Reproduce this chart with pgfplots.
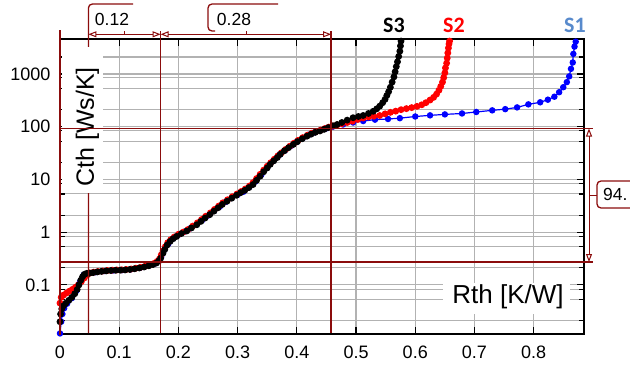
\documentclass[border=0pt]{standalone}
\usepackage{fontspec}
\setmainfont{Liberation Sans}
\newfontfamily\calibri{Carlito}
\usepackage{pgfplots}
\pgfplotsset{compat=1.18}
\usetikzlibrary{arrows.meta}
\definecolor{dred}{RGB}{139,12,12}
\definecolor{gridgray}{RGB}{178,178,178}
\definecolor{sblue}{RGB}{88,138,204}
\begin{document}
\begin{tikzpicture}
\useasboundingbox (0,0) rectangle (630pt,368pt);
\begin{axis}[
  at={(60pt,34pt)}, anchor=south west,
  scale only axis, width=524pt, height=295pt,
  xmin=0, xmax=0.885,
  ymode=log, ymin=0.0117, ymax=4600,
  xtick={0,0.1,0.2,0.3,0.4,0.5,0.6,0.7,0.8},
  xticklabels={0,0.1,0.2,0.3,0.4,0.5,0.6,0.7,0.8},
  ytick={0.1,1,10,100,1000},
  yticklabels={0.1,1,10,100,1000},
  minor ytick={0.021,0.053,0.083,0.21,0.53,0.83,2.1,5.3,8.5,21,53,85,210,530,850,2100},
  grid=both,
  major grid style={gridgray, line width=1.1pt},
  minor grid style={gridgray, line width=1.1pt},
  tick align=inside,
  major tick length=7pt, minor tick length=5pt,
  tick style={black, line width=1.2pt},
  axis line style={black, line width=2pt},
  tick label style={font=\fontsize{18}{20}\selectfont},
  xticklabel style={yshift=-8pt},
  yticklabel style={xshift=-6pt},
]
% S1
\addplot[blue, line width=1.2pt, mark=*, mark size=2.6pt, mark options={fill=blue, draw=blue}] coordinates {
(0.000,0.012) (0.002,0.020) (0.004,0.028) (0.007,0.036) (0.012,0.044) (0.020,0.056) (0.028,0.078) (0.034,0.115) (0.040,0.155) (0.048,0.166) (0.060,0.174) (0.075,0.183) (0.090,0.188) (0.105,0.191) (0.120,0.198) (0.135,0.211) (0.150,0.232) (0.160,0.252) (0.166,0.280) (0.171,0.34) (0.176,0.46) (0.183,0.60) (0.191,0.76) (0.200,0.89) (0.210,1.02) (0.220,1.18) (0.230,1.38) (0.240,1.68) (0.250,2.06) (0.260,2.52) (0.270,3.05) (0.280,3.75) (0.290,4.45) (0.300,5.10) (0.310,5.85) (0.320,7.20) (0.330,9.10) (0.340,12.2) (0.350,16.8) (0.360,22.3) (0.370,28.8) (0.380,35.5) (0.390,43.0) (0.400,51.5) (0.410,60.5) (0.420,70.0) (0.430,78.0) (0.440,85.0) (0.450,93.0) (0.461,100) (0.478,110) (0.495,120) (0.512,128) (0.532,136) (0.554,140) (0.574,145) (0.600,156) (0.625,164) (0.650,171) (0.679,178) (0.703,190) (0.730,204) (0.752,215) (0.772,232) (0.791,265) (0.811,290) (0.824,325) (0.835,370) (0.843,450) (0.850,560) (0.856,700) (0.860,900) (0.863,1250) (0.866,1650) (0.867,2400) (0.869,3300) (0.871,4100)
};
% S2
\addplot[red, line width=1.2pt, mark=*, mark size=2.8pt, mark options={fill=red, draw=red}] coordinates {
(0.000,0.045) (0.002,0.058) (0.006,0.064) (0.011,0.070) (0.016,0.076) (0.021,0.082) (0.026,0.090) (0.031,0.100) (0.036,0.115) (0.041,0.135) (0.046,0.155) (0.051,0.168) (0.057,0.174) (0.064,0.179) (0.072,0.183) (0.080,0.187) (0.088,0.190) (0.096,0.192) (0.104,0.193) (0.112,0.196) (0.120,0.200) (0.128,0.207) (0.136,0.215) (0.144,0.226) (0.152,0.240) (0.159,0.256) (0.164,0.278) (0.168,0.31) (0.171,0.37) (0.174,0.44) (0.178,0.53) (0.182,0.63) (0.187,0.72) (0.193,0.81) (0.200,0.91) (0.208,1.00) (0.216,1.12) (0.224,1.30) (0.232,1.50) (0.239,1.73) (0.246,2.00) (0.254,2.32) (0.261,2.70) (0.268,3.12) (0.275,3.60) (0.283,4.12) (0.291,4.70) (0.299,5.30) (0.306,5.90) (0.313,6.60) (0.320,7.50) (0.326,8.70) (0.332,10.4) (0.338,12.5) (0.344,15.0) (0.350,17.8) (0.356,20.8) (0.362,24.2) (0.368,28.0) (0.374,32.0) (0.381,37.0) (0.388,42.5) (0.395,48.5) (0.402,55.0) (0.410,62.0) (0.418,69.0) (0.425,75.0) (0.432,80.0) (0.440,86.0) (0.447,92.0) (0.454,98.0) (0.461,103) (0.468,108) (0.476,114) (0.485,120) (0.494,127) (0.503,137) (0.512,146) (0.521,153) (0.530,158) (0.540,163) (0.549,175) (0.558,187) (0.567,197) (0.576,210) (0.585,220) (0.594,230) (0.603,243) (0.611,260) (0.618,285) (0.625,320) (0.631,360) (0.636,415) (0.640,490) (0.643,580) (0.646,700) (0.648,850) (0.650,1050) (0.651,1300) (0.653,1600) (0.654,2000) (0.655,2500) (0.656,3100) (0.657,3700) (0.658,4200)
};
% S3
\addplot[black, line width=1.2pt, mark=*, mark size=2.8pt, mark options={fill=black, draw=black}] coordinates {
(0.000,0.020) (0.001,0.028) (0.003,0.035) (0.006,0.040) (0.010,0.045) (0.015,0.051) (0.020,0.058) (0.025,0.068) (0.029,0.082) (0.032,0.100) (0.035,0.122) (0.038,0.142) (0.041,0.158) (0.045,0.165) (0.050,0.167) (0.056,0.171) (0.063,0.176) (0.070,0.180) (0.078,0.184) (0.086,0.187) (0.094,0.189) (0.102,0.190) (0.110,0.192) (0.118,0.196) (0.126,0.202) (0.134,0.209) (0.142,0.218) (0.150,0.230) (0.157,0.243) (0.163,0.260) (0.167,0.285) (0.170,0.32) (0.174,0.40) (0.177,0.47) (0.181,0.57) (0.186,0.67) (0.191,0.75) (0.197,0.83) (0.205,0.94) (0.214,1.05) (0.222,1.20) (0.231,1.38) (0.238,1.60) (0.245,1.85) (0.253,2.15) (0.260,2.50) (0.267,2.90) (0.274,3.35) (0.282,3.85) (0.290,4.40) (0.298,5.00) (0.305,5.60) (0.312,6.20) (0.319,7.00) (0.326,8.00) (0.332,9.60) (0.338,11.5) (0.344,14.0) (0.350,16.5) (0.355,19.3) (0.361,22.5) (0.367,26.0) (0.372,30.0) (0.379,35.0) (0.386,40.0) (0.394,46.0) (0.401,52.0) (0.409,59.0) (0.417,66.0) (0.424,72.0) (0.431,78.0) (0.439,83.0) (0.446,89.0) (0.453,96.0) (0.461,104) (0.468,110) (0.476,120) (0.485,133) (0.495,148) (0.504,156) (0.512,163) (0.521,178) (0.529,196) (0.535,218) (0.540,245) (0.545,285) (0.549,330) (0.552,390) (0.555,460) (0.558,560) (0.561,700) (0.564,880) (0.566,1100) (0.568,1380) (0.570,1700) (0.572,2150) (0.574,2700) (0.575,3400) (0.576,4200)
};
\end{axis}
\begin{scope}[shift={(0pt,368pt)}, x=1pt, y=-1pt]
  \draw[dred, line width=1.3pt, rounded corners=4pt] (133,4) -- (88.4,4) -- (88.4,333);
  \draw[dred, line width=1.3pt] (160.6,31) -- (160.6,333);
  \draw[dred, line width=1.3pt] (331.1,31) -- (331.1,333);
  \fill[white] (61.5,47) rectangle (103,193);
  \node[rotate=90, font=\fontsize{25}{28}\selectfont] at (87.5,127) {Cth [Ws/K]};
  \fill[white] (443,283) rectangle (570,314);
  \node[font=\fontsize{26}{28}\selectfont] at (508,297) {Rth [K/W]};
  \draw[dred, line width=1.3pt] (60,128.5) -- (593,128.5);
  \draw[dred, line width=1.3pt] (60,262) -- (593,262);
  \draw[dred, line width=2pt] (60,335) -- (60,30);
  \draw[dred, line width=1pt, {Triangle[open,length=8pt,width=6pt]}-{Triangle[open,length=8pt,width=6pt]}] (88.4,34.3) -- (160.6,34.3);
  \draw[dred, line width=1pt, {Triangle[open,length=8pt,width=6pt]}-{Triangle[open,length=8pt,width=6pt]}] (160.6,34.3) -- (331.1,34.3);
  \draw[dred, line width=1pt] (124.5,34.3) -- (124.5,31);
  \draw[dred, line width=1pt] (246,34.3) -- (246,31);
  \draw[dred, line width=1.3pt, rounded corners=4pt] (278,4) -- (208,4) -- (208,31) -- (215,31);
  \node[font=\fontsize{17.5}{20}\selectfont] at (112,19.5) {0.12};
  \node[font=\fontsize{17.5}{20}\selectfont] at (234,19.5) {0.28};
  \draw[dred, line width=1pt, {Triangle[open,length=8pt,width=6pt]}-{Triangle[open,length=8pt,width=6pt]}] (589,128.5) -- (589,262);
  \draw[dred, line width=1pt] (589,195) -- (597,195);
  \draw[dred, line width=1.3pt, rounded corners=4pt] (640,181) -- (597,181) -- (597,208) -- (640,208);
  \node[font=\fontsize{17.5}{20}\selectfont, anchor=west, inner sep=0pt] at (603,194.5) {94.};
  \node[font=\calibri\bfseries\fontsize{22}{24}\selectfont, text=black] at (394,25) {S3};
  \node[font=\calibri\bfseries\fontsize{22}{24}\selectfont, text=red] at (454,25) {S2};
  \node[font=\calibri\bfseries\fontsize{22}{24}\selectfont, text=sblue] at (575,25) {S1};
\end{scope}
\end{tikzpicture}
\end{document}
